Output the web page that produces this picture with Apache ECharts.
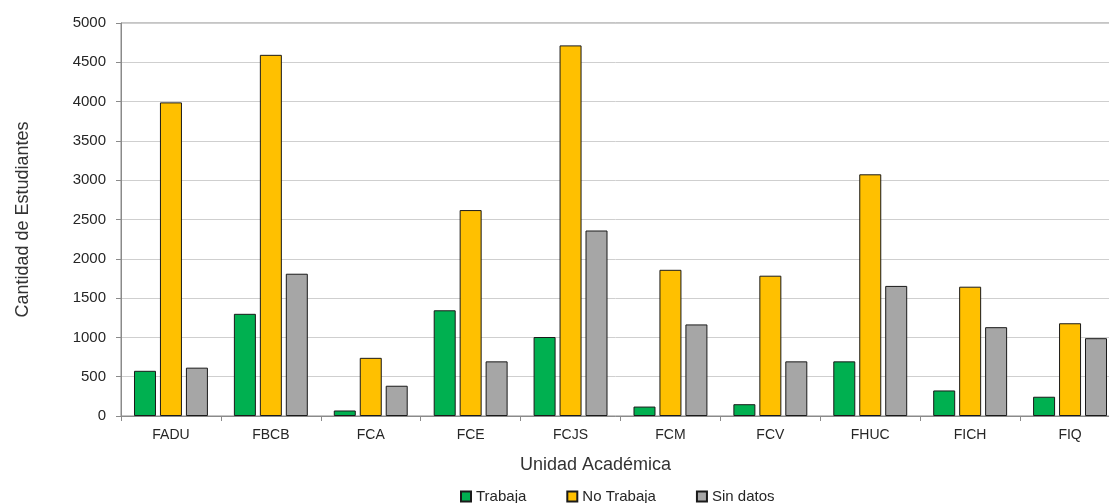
<!DOCTYPE html>
<html>
<head>
<meta charset="utf-8">
<script src="https://cdn.jsdelivr.net/npm/echarts@6/dist/echarts.min.js"></script>
<style>
html,body{margin:0;padding:0;background:#fff;}
#chart{width:1109px;height:503px;}
</style>
</head>
<body>
<div id="chart"></div>
<script>
const categories = ['FADU','FBCB','FCA','FCE','FCJS','FCM','FCV','FHUC','FICH','FIQ'];
const trabaja    = [575, 1300, 70, 1345, 1005, 120, 150, 695, 325, 245];
const noTrabaja  = [3990, 4595, 740, 2620, 4715, 1860, 1785, 3075, 1645, 1180];
const sinDatos   = [615, 1810, 385, 695, 2360, 1165, 695, 1655, 1130, 990];
const seriesNames = ['Trabaja','No Trabaja','Sin datos'];
const yTicks = [0,500,1000,1500,2000,2500,3000,3500,4000,4500,5000];

const colors = ['#00B050','#FFC000','#A6A6A6'];
const font = '"Liberation Sans", Arial, sans-serif';
const mk = (name, data, color) => ({
  name, type:'bar', data, barWidth:22, barGap:'18%',
  itemStyle:{color, borderColor:'#1a1a1a', borderWidth:1},
  emphasis:{disabled:true}
});

const chart = echarts.init(document.getElementById('chart'));
chart.setOption({
  animation:false,
  grid:{left:121, top:23, right:-11, height:393, outerBoundsMode:'none', containLabel:false,
        show:true, borderColor:'#8a8a8a', borderWidth:1},
  legend:{
    data:seriesNames, left:455, top:484, icon:'rect', itemWidth:10, itemHeight:10, itemGap:40,
    textStyle:{fontFamily:font, fontSize:15, color:'#262626'}
  },
  xAxis:{
    type:'category', data:categories,
    name:'Unidad Académica', nameLocation:'middle', nameGap:40,
    nameTextStyle:{fontFamily:font, fontSize:18, color:'#333', padding:[0,50,0,0]},
    axisLine:{lineStyle:{color:'#8a8a8a', width:1}},
    axisTick:{show:true, length:5, interval:0, lineStyle:{color:'#8a8a8a'}},
    axisLabel:{fontFamily:font, fontSize:14, color:'#262626', margin:12, interval:0}
  },
  yAxis:{
    type:'value', min:yTicks[0], max:yTicks[yTicks.length-1], interval:yTicks[1]-yTicks[0],
    name:'Cantidad de Estudiantes', nameLocation:'middle', nameGap:89,
    nameTextStyle:{fontFamily:font, fontSize:18, color:'#333'},
    axisLine:{show:true, lineStyle:{color:'#8a8a8a', width:1}},
    axisTick:{show:true, length:5, lineStyle:{color:'#8a8a8a'}},
    axisLabel:{fontFamily:font, fontSize:15, color:'#262626', margin:15, formatter:v => String(v)},
    splitLine:{lineStyle:{color:'#cfcfcf', width:1}}
  },
  series:[
    mk(seriesNames[0], trabaja, colors[0]),
    mk(seriesNames[1], noTrabaja, colors[1]),
    mk(seriesNames[2], sinDatos, colors[2])
  ]
});
</script>
</body>
</html>
